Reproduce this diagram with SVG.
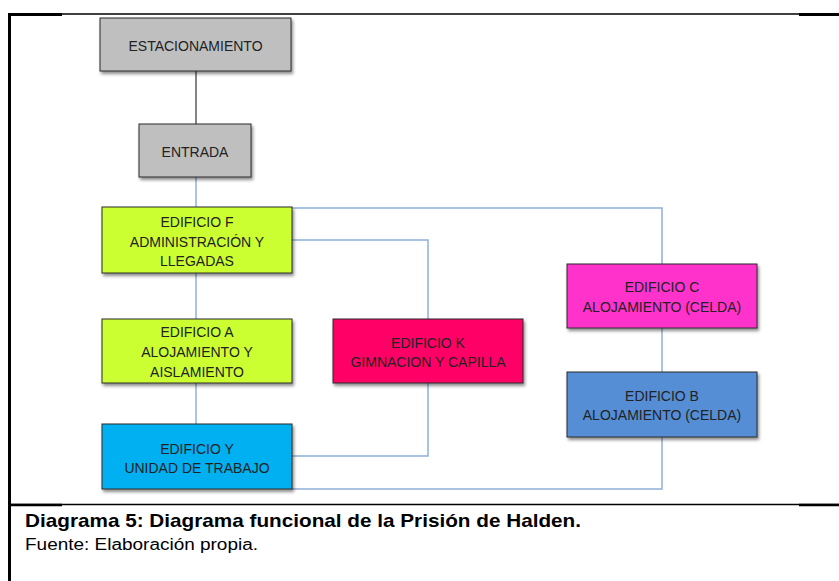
<svg xmlns="http://www.w3.org/2000/svg" width="839" height="581" viewBox="0 0 839 581">
<defs>
<filter id="sh" x="-10%" y="-10%" width="125%" height="140%">
<feDropShadow dx="1.5" dy="2.5" stdDeviation="1.5" flood-color="#000" flood-opacity="0.45"/>
</filter>
<style>
.box{stroke:#2b2b2b;stroke-width:1;filter:url(#sh)}
.t{font-family:"Liberation Sans",Arial,sans-serif;font-size:14px;fill:#222;text-anchor:middle}
.c{fill:none;stroke:#8FB0DA;stroke-width:1.5}
.frame{stroke:#000;fill:none}
</style>
</defs>
<rect width="839" height="581" fill="#fff"/>
<g id="frame">
<line class="frame" x1="9.5" y1="14" x2="839" y2="14" stroke-width="1.5"/>
<line class="frame" x1="8" y1="14.5" x2="62" y2="14.5" stroke-width="3"/>
<line class="frame" x1="799" y1="14.5" x2="839" y2="14.5" stroke-width="3"/>
<line class="frame" x1="9.5" y1="13" x2="9.5" y2="581" stroke-width="3"/>
<line class="frame" x1="9.5" y1="504.5" x2="839" y2="504.5" stroke-width="1.5"/>
<line class="frame" x1="8" y1="505" x2="62" y2="505" stroke-width="2.5"/>
<line class="frame" x1="799" y1="505" x2="839" y2="505" stroke-width="2.5"/>
</g>
<g id="connectors">
<path d="M196 71V124" fill="none" stroke="#333" stroke-width="1.2"/>
<path class="c" d="M196 177V207"/>
<path class="c" d="M292 208H662V264"/>
<path class="c" d="M292 240H428V319"/>
<path class="c" d="M196 273V319"/>
<path class="c" d="M196 383V424"/>
<path class="c" d="M428 383V456H292"/>
<path class="c" d="M662 328V372"/>
<path class="c" d="M662 437V489H292"/>
</g>
<g id="estacionamiento">
<rect class="box" x="100" y="18" width="191" height="53" fill="#BFBFBF"/>
<text class="t" x="195.5" y="50.5">ESTACIONAMIENTO</text>
</g>
<g id="entrada">
<rect class="box" x="139" y="124" width="112" height="53" fill="#BFBFBF"/>
<text class="t" x="195" y="157">ENTRADA</text>
</g>
<g id="edificio-f">
<rect class="box" x="102" y="207" width="190" height="66" fill="#CCFF33"/>
<text class="t" x="197" y="227">EDIFICIO F</text>
<text class="t" x="197" y="247">ADMINISTRACIÓN Y</text>
<text class="t" x="197" y="266">LLEGADAS</text>
</g>
<g id="edificio-a">
<rect class="box" x="102" y="319" width="190" height="64" fill="#CCFF33"/>
<text class="t" x="197" y="337">EDIFICIO A</text>
<text class="t" x="197" y="357">ALOJAMIENTO Y</text>
<text class="t" x="197" y="377">AISLAMIENTO</text>
</g>
<g id="edificio-y">
<rect class="box" x="102" y="424" width="190" height="65" fill="#00B0F0"/>
<text class="t" x="197" y="454">EDIFICIO Y</text>
<text class="t" x="197" y="473">UNIDAD DE TRABAJO</text>
</g>
<g id="edificio-k">
<rect class="box" x="333" y="319" width="190" height="64" fill="#FF0066"/>
<text class="t" x="428" y="348">EDIFICIO  K</text>
<text class="t" x="428" y="367">GIMNACION Y CAPILLA</text>
</g>
<g id="edificio-c">
<rect class="box" x="567" y="264" width="190" height="64" fill="#FF33CC"/>
<text class="t" x="662" y="292">EDIFICIO C</text>
<text class="t" x="662" y="312">ALOJAMIENTO (CELDA)</text>
</g>
<g id="edificio-b">
<rect class="box" x="567" y="372" width="190" height="65" fill="#558ED5"/>
<text class="t" x="662" y="401">EDIFICIO B</text>
<text class="t" x="662" y="420">ALOJAMIENTO (CELDA)</text>
</g>
<g id="caption">
<text x="25" y="527" font-family="'Liberation Sans',Arial,sans-serif" font-size="19" font-weight="bold" fill="#000" textLength="556" lengthAdjust="spacingAndGlyphs">Diagrama 5: Diagrama funcional de la Prisión de Halden.</text>
<text x="25" y="550" font-family="'Liberation Sans',Arial,sans-serif" font-size="16" fill="#000" textLength="233" lengthAdjust="spacingAndGlyphs">Fuente: Elaboración propia.</text>
</g>
</svg>
